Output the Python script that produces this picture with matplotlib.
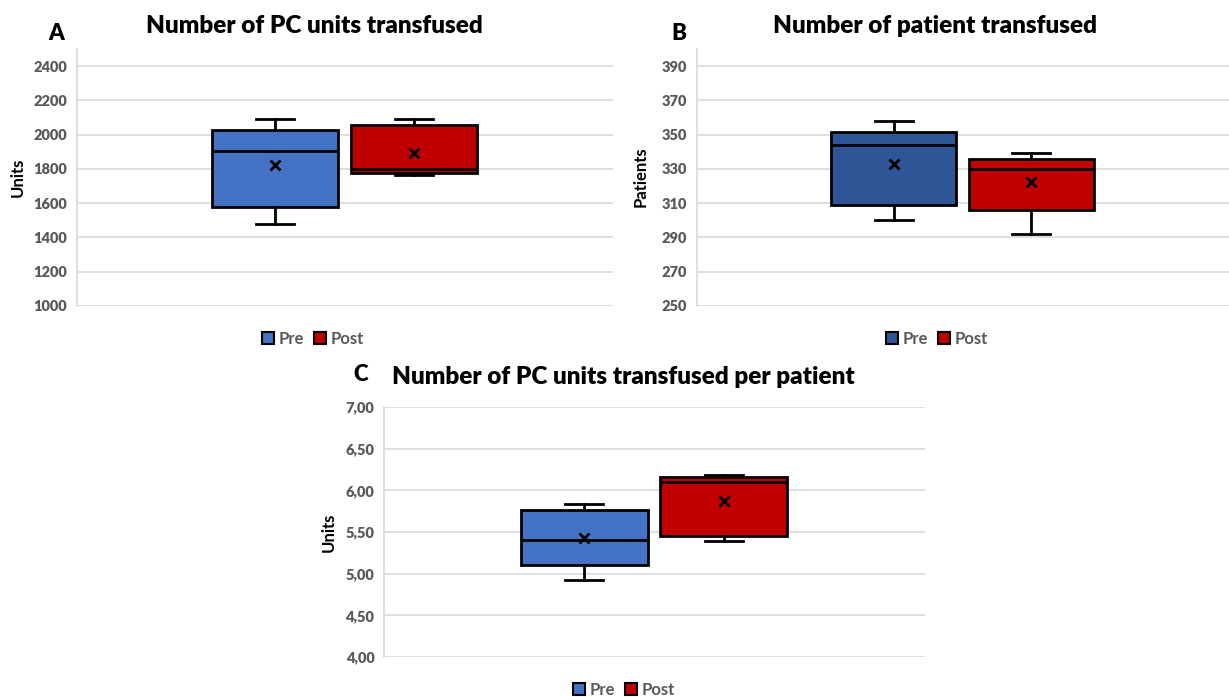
import matplotlib
matplotlib.use("Agg")
import matplotlib.pyplot as plt
from matplotlib.patches import Patch
from matplotlib.ticker import FuncFormatter

plt.rcParams['font.family'] = ['Lato', 'DejaVu Sans']
plt.rcParams['font.weight'] = 'bold'

# Box statistics: whisker low, Q1, median, Q3, whisker high, mean
groups = ['Pre', 'Post']

units_low = [1480, 1765]
units_q1 = [1579, 1775]
units_med = [1903, 1798]
units_q3 = [2025, 2058]
units_high = [2089, 2093]
units_mean = [1821, 1892]

patients_low = [300, 292]
patients_q1 = [308.7, 306]
patients_med = [344, 330.2]
patients_q3 = [351.7, 336]
patients_high = [358, 339.2]
patients_mean = [332.9, 322.5]

per_patient_low = [4.93, 5.39]
per_patient_q1 = [5.11, 5.45]
per_patient_med = [5.40, 6.10]
per_patient_q3 = [5.76, 6.16]
per_patient_high = [5.83, 6.18]
per_patient_mean = [5.43, 5.87]

W, H = 1229, 697
fig = plt.figure(figsize=(W / 100, H / 100), dpi=100)


def px_axes(left, right, top, bottom):
    return fig.add_axes([left / W, 1 - bottom / H, (right - left) / W, (bottom - top) / H])


def boxes(ax, low, q1, med, q3, high, mean, colors, ylim, step, fmt):
    stats = []
    for i in range(len(groups)):
        stats.append(dict(label=groups[i], whislo=low[i], q1=q1[i], med=med[i],
                          q3=q3[i], whishi=high[i], mean=mean[i], fliers=[]))
    width = 0.235
    bp = ax.bxp(stats, positions=[0.37, 0.628], widths=width, patch_artist=True,
                showmeans=True, capwidths=width * 0.3,
                boxprops=dict(edgecolor='black', linewidth=2),
                medianprops=dict(color='black', linewidth=2),
                whiskerprops=dict(color='black', linewidth=2),
                capprops=dict(color='black', linewidth=2),
                meanprops=dict(marker='x', markeredgecolor='black',
                               markersize=7, markeredgewidth=2),
                manage_ticks=False)
    for patch, c in zip(bp['boxes'], colors):
        patch.set_facecolor(c)
    ax.set_xlim(0, 1)
    ax.set_ylim(*ylim)
    n = int(round((ylim[1] - ylim[0]) / step))
    ticks = [ylim[0] + k * step for k in range(n + 1)]
    ax.set_yticks(ticks)
    ax.yaxis.set_major_formatter(FuncFormatter(fmt))
    ax.set_xticks([])
    ax.grid(axis='y', color='#d9d9d9', linewidth=1.2)
    ax.set_axisbelow(True)
    for s in ['top', 'right', 'bottom']:
        ax.spines[s].set_visible(False)
    ax.spines['left'].set_color('#d9d9d9')
    ax.spines['left'].set_linewidth(1.2)
    ax.tick_params(axis='y', length=0, pad=7, labelsize=10.5, labelcolor='#595959')
    for lab in ax.get_yticklabels():
        lab.set_fontweight('heavy')


def legend(cx, cy, colors):
    handles = [Patch(facecolor=c, edgecolor='black', linewidth=1.5, label=g)
               for c, g in zip(colors, groups)]
    fig.legend(handles=handles, loc='center', bbox_to_anchor=(cx / W, 1 - cy / H),
               ncol=2, frameon=False, handlelength=0.7, handleheight=0.7,
               handletextpad=0.3, columnspacing=0.6,
               prop=dict(size=12, weight='bold'), labelcolor='#595959')


blue = '#4472C4'
dark_blue = '#2F5597'
red = '#C00000'

# A - PC units (top axis edge at 2500, labels stop at 2400)
axA = px_axes(77, 613, 49, 306)
boxes(axA, units_low, units_q1, units_med, units_q3, units_high, units_mean,
      [blue, red], (1000, 2400), 200, lambda v, p: '%d' % v)
axA.set_ylim(1000, 2500)
fig.text(314 / W, 1 - 26 / H, 'Number of PC units transfused', ha='center', va='center',
         fontsize=17.5, fontweight='heavy')
fig.text(56 / W, 1 - 33 / H, 'A', ha='center', va='center', fontsize=16, fontweight='heavy')
fig.text(18 / W, 1 - 177 / H, 'Units', ha='center', va='center', rotation=90,
         fontsize=12, fontweight='bold')
legend(313, 339, [blue, red])

# B - patients
axB = px_axes(697, 1229, 49, 306)
boxes(axB, patients_low, patients_q1, patients_med, patients_q3, patients_high,
      patients_mean, [dark_blue, red], (250, 390), 20, lambda v, p: '%d' % v)
axB.set_ylim(250, 400)
fig.text(935 / W, 1 - 26 / H, 'Number of patient transfused', ha='center', va='center',
         fontsize=17.5, fontweight='heavy')
fig.text(679 / W, 1 - 33 / H, 'B', ha='center', va='center', fontsize=16, fontweight='heavy')
fig.text(641 / W, 1 - 177 / H, 'Patients', ha='center', va='center', rotation=90,
         fontsize=12, fontweight='bold')
legend(937, 339, [dark_blue, red])

# C - units per patient
axC = px_axes(384, 925, 407, 657)
boxes(axC, per_patient_low, per_patient_q1, per_patient_med, per_patient_q3,
      per_patient_high, per_patient_mean, [blue, red], (4, 7), 0.5,
      lambda v, p: ('%.2f' % v).replace('.', ','))
fig.text(623 / W, 1 - 377 / H, 'Number of PC units transfused per patient', ha='center',
         va='center', fontsize=17.5, fontweight='heavy')
fig.text(361 / W, 1 - 375 / H, 'C', ha='center', va='center', fontsize=16, fontweight='heavy')
fig.text(329 / W, 1 - 532 / H, 'Units', ha='center', va='center', rotation=90,
         fontsize=12, fontweight='bold')
legend(624, 690, [blue, red])

fig.savefig('out.png', dpi=100, facecolor='white')
